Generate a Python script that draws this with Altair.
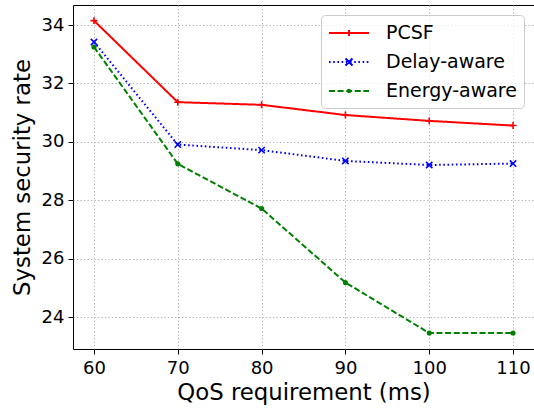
import altair as alt
import pandas as pd

# ---- data ----
qos = [60, 70, 80, 90, 100, 110]
pcsf = [34.15, 31.36, 31.27, 30.92, 30.72, 30.56]
delay_aware = [33.42, 29.91, 29.72, 29.35, 29.21, 29.26]
energy_aware = [33.25, 29.25, 27.72, 25.19, 23.46, 23.46]

series = ["PCSF", "Delay-aware", "Energy-aware"]
colors = ["#ff0000", "#0000ff", "#008000"]
x_ticks = [60, 70, 80, 90, 100, 110]
y_ticks = [24, 26, 28, 30, 32, 34]

values = {"PCSF": pcsf, "Delay-aware": delay_aware, "Energy-aware": energy_aware}
rows = []
for s in series:
    for q, v in zip(qos, values[s]):
        rows.append({"qos": q, "rate": v, "series": s})
df = pd.DataFrame(rows)

# ---- styles ----
FONT = "DejaVu Sans"
dashes = {"PCSF": [1, 0], "Delay-aware": [1.6, 2.6], "Energy-aware": [6, 2.6]}
PLUS = "M-1,0L1,0M0,-1L0,1"
XMARK = "M-1,-1L1,1M-1,1L1,-1"
marker_shapes = {"PCSF": PLUS, "Delay-aware": XMARK, "Energy-aware": "circle"}
marker_sizes = {"PCSF": 48, "Delay-aware": 40, "Energy-aware": 26}


def dash_path(on, off, x0=-1.0, x1=3.0):
    parts = []
    x = x0
    while x < x1 - 1e-6:
        e = min(x + on, x1)
        parts.append(f"M{x:.3f},0L{e:.3f},0")
        x += on + off
    return "".join(parts)


legend_paths = [
    "M-1,0L3,0M1,-0.3L1,0.3",
    dash_path(0.16, 0.26) + "M0.65,-0.35L1.35,0.35M0.65,0.35L1.35,-0.35",
    dash_path(0.6, 0.26) + "M0.88,0A0.12,0.12 0 1,0 1.12,0A0.12,0.12 0 1,0 0.88,0",
]

xs = alt.Scale(domain=[57.5, 112.5], nice=False, zero=False)
ys = alt.Scale(domain=[22.915, 34.685], nice=False, zero=False)

x_enc = alt.X(
    "qos:Q",
    scale=xs,
    axis=alt.Axis(
        values=x_ticks, format="d", title="QoS requirement (ms)",
        labelPadding=5, titlePadding=4,
    ),
)
y_enc = alt.Y(
    "rate:Q",
    scale=ys,
    axis=alt.Axis(
        values=y_ticks, format="d", title="System security rate",
        labelPadding=4, titlePadding=7,
    ),
)

layers = []
for s, c in zip(series, colors):
    base = alt.Chart(df).transform_filter(alt.datum.series == s)
    layers.append(
        base.mark_line(color=c, strokeWidth=2, strokeDash=dashes[s]).encode(x=x_enc, y=y_enc)
    )
for s, c in zip(series, colors):
    base = alt.Chart(df).transform_filter(alt.datum.series == s)
    if s == "Energy-aware":
        mk = base.mark_point(shape="circle", filled=True, color=c, opacity=1,
                             size=marker_sizes[s], strokeWidth=0)
    else:
        mk = base.mark_point(shape=marker_shapes[s], filled=False, color=c, opacity=1,
                             size=marker_sizes[s], strokeWidth=1.6)
    layers.append(mk.encode(x=x_enc, y=y_enc))

leg = alt.Legend(
    title=None, orient="none", legendX=248, legendY=10,
    labelFont=FONT, labelFontSize=19, labelColor="black",
    symbolSize=400, symbolStrokeWidth=2, symbolOpacity=1,
    labelOffset=36, rowPadding=8, padding=7,
    strokeColor="#cccccc", fillColor="rgba(255,255,255,0.8)", cornerRadius=4,
)
legend_layer = (
    alt.Chart(df)
    .transform_filter("false")
    .mark_point(filled=False, opacity=1, strokeWidth=2, size=400)
    .encode(
        x=x_enc,
        y=y_enc,
        color=alt.Color("series:N", scale=alt.Scale(domain=series, range=colors), legend=leg),
        shape=alt.Shape("series:N", scale=alt.Scale(domain=series, range=legend_paths), legend=leg),
    )
)
layers.append(legend_layer)

chart = (
    alt.layer(*layers)
    .properties(
        width=461, height=344,
        autosize=alt.AutoSizeParams(type="none"),
        padding={"left": 73, "top": 5, "right": 0, "bottom": 62},
        background="white",
    )
    .configure_view(stroke="black", strokeWidth=1)
    .configure_axis(
        labelFont=FONT, labelFontSize=18, labelColor="black",
        titleFont=FONT, titleFontSize=22.8, titleFontWeight="normal", titleColor="black",
        tickColor="black", tickSize=5, tickWidth=1, domain=False,
        grid=True, gridColor="#b0b0b0", gridDash=[1.3, 2.2], gridWidth=1,
    )
)

chart.save("out.html", embed_options={"renderer": "svg", "actions": False})
